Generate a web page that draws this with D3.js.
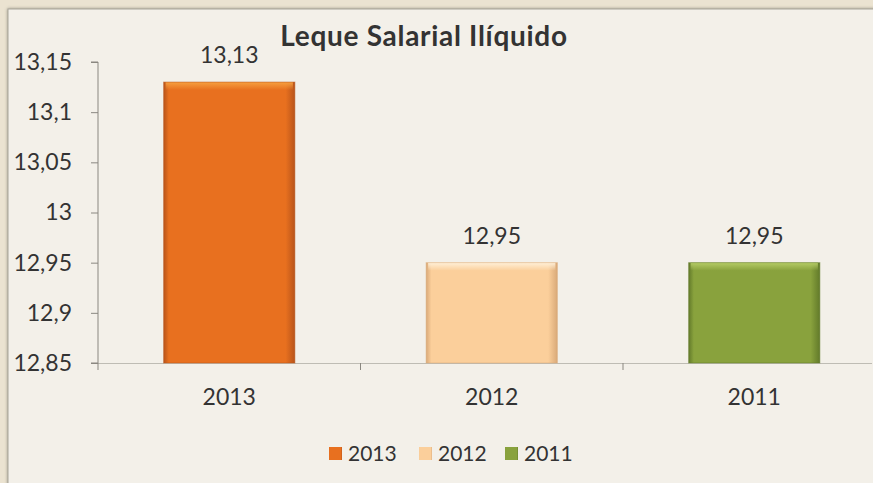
<!DOCTYPE html>
<html>
<head>
<meta charset="utf-8">
<script src="https://cdn.jsdelivr.net/npm/d3@7/dist/d3.min.js"></script>
<style>
  html, body { margin: 0; padding: 0; background: #ebe3d1; }
  svg { display: block; }
  text { font-family: Lato, "Open Sans", sans-serif; fill: #333; }
</style>
</head>
<body>
<svg id="chart" width="873" height="483"></svg>
<script>
// Series data
const categories = ["2013", "2012", "2011"];
const values = [13.13, 12.95, 12.95];
const yTicks = [12.85, 12.9, 12.95, 13, 13.05, 13.1, 13.15];
const barColors = ["#e8701f", "#fbcf9b", "#89a23d"];
const barEdge = ["#b8541a", "#d9a978", "#627a2a"];
const barHighlight = ["#f6a040", "#fff0d8", "#b5cc66"];
const title = "Leque Salarial Ilíquido";

const svg = d3.select("#chart");
const W = 873, H = 483;
const fmt = v => String(v).replace(".", ",");
const FONT = "Lato, 'Open Sans', sans-serif";

// outer frame and panel
svg.append("rect").attr("width", W).attr("height", H).attr("fill", "#ebe3d1");
const defs = svg.append("defs");
const sh = defs.append("filter").attr("id", "panelShadow")
  .attr("x", -0.05).attr("y", -0.05).attr("width", 1.1).attr("height", 1.1);
sh.append("feDropShadow").attr("dx", 0).attr("dy", 0).attr("stdDeviation", 1.5)
  .attr("flood-color", "#6d6a60").attr("flood-opacity", 0.7);
svg.append("rect").attr("x", 8).attr("y", 9).attr("width", W).attr("height", H)
  .attr("fill", "#f3f0e9").attr("stroke", "#a9a59a").attr("stroke-width", 1)
  .attr("filter", "url(#panelShadow)");

// bevel gradients for bars
categories.forEach((c, i) => {
  const gh = defs.append("linearGradient").attr("id", "gh" + i)
    .attr("x1", 0).attr("x2", 1).attr("y1", 0).attr("y2", 0);
  gh.append("stop").attr("offset", "0").attr("stop-color", barEdge[i]);
  gh.append("stop").attr("offset", "0.04").attr("stop-color", barColors[i]);
  gh.append("stop").attr("offset", "0.93").attr("stop-color", barColors[i]);
  gh.append("stop").attr("offset", "1").attr("stop-color", barEdge[i]);
  const gv = defs.append("linearGradient").attr("id", "gv" + i)
    .attr("x1", 0).attr("x2", 0).attr("y1", 0).attr("y2", 1);
  gv.append("stop").attr("offset", "0").attr("stop-color", barHighlight[i]).attr("stop-opacity", 1);
  gv.append("stop").attr("offset", "1").attr("stop-color", barHighlight[i]).attr("stop-opacity", 0);
});

// scales
const x = d3.scaleBand().domain(categories).range([98, 98 + 262.5 * 3])
  .paddingInner(0.5).paddingOuter(0.25);
const y = d3.scaleLinear().domain([12.85, 13.15]).range([363, 62]);

// clip plot to visible area
defs.append("clipPath").attr("id", "clipPlot")
  .append("rect").attr("x", 0).attr("y", 0).attr("width", W - 1).attr("height", H);

// y axis
const yAxis = d3.axisLeft(y).tickValues(yTicks).tickSize(7).tickPadding(19)
  .tickFormat(fmt);
const gy = svg.append("g").attr("transform", "translate(98,0)").call(yAxis);
gy.select(".domain").attr("stroke", "#8a8780").attr("d", "M-7,62H0V363H-7");
gy.selectAll(".tick line").attr("stroke", "#8a8780");
gy.selectAll(".tick text").attr("font-size", 23).attr("fill", "#333")
  .style("font-family", FONT);

// x axis
const gx = svg.append("g").attr("transform", "translate(0,363)").attr("clip-path", "url(#clipPlot)");
const xAxis = d3.axisBottom(x).tickSize(0);
gx.call(xAxis);
gx.select(".domain").attr("stroke", "#8a8780").attr("d", "M98,0H880");
gx.selectAll(".tick text").attr("font-size", 23).attr("fill", "#333")
  .attr("y", 42).attr("dy", 0)
  .style("font-family", FONT);
// category boundary ticks
const step = x.step();
gx.selectAll("line.sep").data(d3.range(0, 4)).enter().append("line")
  .attr("class", "sep")
  .attr("x1", i => 98 + i * step).attr("x2", i => 98 + i * step)
  .attr("y1", 0).attr("y2", 7).attr("stroke", "#8a8780");

// bars
const bars = svg.append("g");
categories.forEach((c, i) => {
  const bx = x(c), bw = x.bandwidth(), by = y(values[i]), bh = y(12.85) - y(values[i]);
  bars.append("rect").attr("x", bx).attr("y", by).attr("width", bw).attr("height", bh)
    .attr("fill", "url(#gh" + i + ")");
  bars.append("rect").attr("x", bx + 2).attr("y", by).attr("width", bw - 4).attr("height", Math.min(8, bh))
    .attr("fill", "url(#gv" + i + ")");
  bars.append("rect").attr("x", bx).attr("y", by).attr("width", bw).attr("height", bh)
    .attr("fill", "none").attr("stroke", barEdge[i]).attr("stroke-opacity", 0.5);
});

// value labels
svg.append("g").selectAll("text").data(categories).enter().append("text")
  .attr("x", c => x(c) + x.bandwidth() / 2)
  .attr("y", (c, i) => y(values[i]) - 19)
  .attr("text-anchor", "middle").attr("font-size", 23)
  .text((c, i) => fmt(values[i]));

// title
svg.append("text").attr("x", 424).attr("y", 46).attr("text-anchor", "middle")
  .attr("font-size", 28).attr("font-weight", "bold").attr("letter-spacing", 0.7)
  .attr("fill", "#222").text(title);

// legend
const legend = svg.append("g").attr("transform", "translate(329,453)");
const itemX = [0, 90, 176];
categories.forEach((c, i) => {
  const g = legend.append("g").attr("transform", `translate(${itemX[i]},0)`);
  g.append("rect").attr("x", 0).attr("y", -6).attr("width", 13).attr("height", 13)
    .attr("fill", "url(#gh" + i + ")");
  g.append("text").attr("x", 19).attr("y", 8).attr("font-size", 21).text(c);
});
</script>
</body>
</html>
